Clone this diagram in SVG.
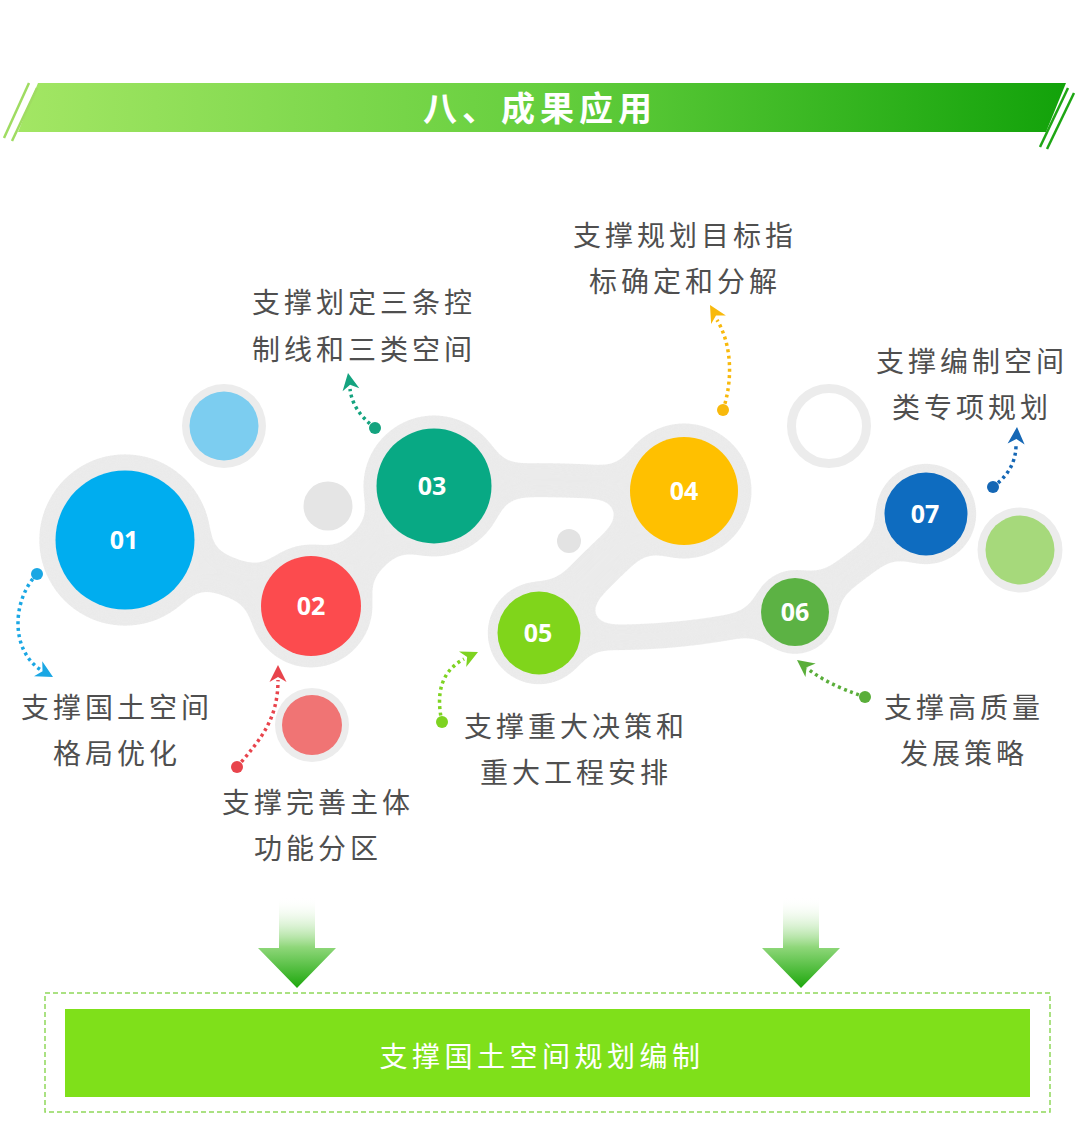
<svg xmlns="http://www.w3.org/2000/svg" width="1080" height="1126" viewBox="0 0 1080 1126">
<defs>
  <linearGradient id="band" x1="0" y1="0" x2="1" y2="0">
    <stop offset="0" stop-color="#a3e664"/>
    <stop offset="0.5" stop-color="#66cf3e"/>
    <stop offset="1" stop-color="#12a20a"/>
  </linearGradient>
  <linearGradient id="down" x1="0" y1="0" x2="0" y2="1">
    <stop offset="0" stop-color="#ffffff" stop-opacity="0"/>
    <stop offset="0.55" stop-color="#8fd77a"/>
    <stop offset="1" stop-color="#1da70c"/>
  </linearGradient>
  <filter id="goo" x="0" y="0" width="1080" height="1126" filterUnits="userSpaceOnUse" color-interpolation-filters="sRGB">
    <feGaussianBlur in="SourceGraphic" stdDeviation="12" result="b"/>
    <feColorMatrix in="b" type="matrix" values="1 0 0 0 0  0 1 0 0 0  0 0 1 0 0  0 0 0 30 -15"/>
  </filter>
  <path id="ah" d="M0,0 L-17,-8.5 L-12,0 L-17,8.5 Z"/>
</defs>
<style>
  .lbl{font-family:"Noto Sans CJK SC","Noto Sans",sans-serif;font-size:28px;fill:#4f4f4f;letter-spacing:4px;text-anchor:middle}
  .num{font-family:"Open Sans","Liberation Sans",sans-serif;font-weight:700;font-size:25px;fill:#ffffff;text-anchor:middle}
  .halo{fill:#ebebeb}
  .neck{fill:none;stroke:#ebebeb;stroke-linecap:round}
  .dot{fill:none;stroke-width:3.5;stroke-dasharray:3 3.5}
  .stripe{stroke-width:2.5}
</style>
<rect width="1080" height="1126" fill="#ffffff"/>

<g id="header">
  <polygon points="38,83 1066,83 1046,132 18,132" fill="url(#band)"/>
  <line class="stripe" x1="29" y1="83" x2="4" y2="138" stroke="#9fdc62"/>
  <line class="stripe" x1="37" y1="88" x2="12" y2="141" stroke="#9fdc62"/>
  <line class="stripe" x1="1068" y1="88" x2="1040" y2="147" stroke="#1ea614"/>
  <line class="stripe" x1="1074" y1="93" x2="1047" y2="149" stroke="#1ea614"/>
  <text x="540" y="121" font-family="'Noto Sans CJK SC','Noto Sans',sans-serif" font-size="34" font-weight="700" letter-spacing="5" fill="#ffffff" text-anchor="middle">八、成果应用</text>
</g>

<g id="links" filter="url(#goo)">
  <circle class="halo" cx="125" cy="540" r="87"/>
  <circle class="halo" cx="311" cy="606" r="63"/>
  <circle class="halo" cx="434" cy="486" r="72"/>
  <circle class="halo" cx="684" cy="491" r="69"/>
  <circle class="halo" cx="539" cy="633" r="53"/>
  <circle class="halo" cx="795" cy="612" r="44"/>
  <circle class="halo" cx="926" cy="514" r="52"/>
  <path class="neck" d="M125,540 L311,606" stroke-width="40"/>
  <path class="neck" d="M311,606 L434,486" stroke-width="46"/>
  <path class="neck" d="M434,486 Q560,472 684,491" stroke-width="35"/>
  <path class="neck" d="M684,491 Q595,565 539,633" stroke-width="44"/>
  <path class="neck" d="M539,633 Q670,648 795,612" stroke-width="27"/>
  <path class="neck" d="M795,612 L926,514" stroke-width="32"/>
</g>

<g id="decor">
  <circle cx="224" cy="426" r="42" fill="#ececec"/>
  <circle cx="224" cy="426" r="34.5" fill="#7ccdf0"/>
  <circle cx="328" cy="506" r="24.5" fill="#e5e5e5"/>
  <circle cx="569" cy="541" r="12" fill="#e3e3e3"/>
  <circle cx="829" cy="426" r="37.5" fill="none" stroke="#ececec" stroke-width="9"/>
  <circle cx="1020" cy="550" r="42.5" fill="#ececec"/>
  <circle cx="1020" cy="550" r="34.5" fill="#a6d97b"/>
  <circle cx="312" cy="725" r="37" fill="#ececec"/>
  <circle cx="312" cy="725" r="30" fill="#f07474"/>
</g>

<g id="node-01">
  <circle cx="125" cy="540" r="69.5" fill="#00adef"/>
  <text class="num" x="124" y="549">01</text>
</g>
<g id="node-02">
  <circle cx="311" cy="606" r="50" fill="#fc4b4e"/>
  <text class="num" x="311" y="615">02</text>
</g>
<g id="node-03">
  <circle cx="434" cy="486" r="57.5" fill="#08a984"/>
  <text class="num" x="432" y="495">03</text>
</g>
<g id="node-04">
  <circle cx="684" cy="491" r="54" fill="#ffc000"/>
  <text class="num" x="684" y="500">04</text>
</g>
<g id="node-05">
  <circle cx="539" cy="633" r="41.5" fill="#80d51b"/>
  <text class="num" x="538" y="642">05</text>
</g>
<g id="node-06">
  <circle cx="795" cy="612" r="34" fill="#5cb244"/>
  <text class="num" x="795" y="621">06</text>
</g>
<g id="node-07">
  <circle cx="926" cy="514" r="41.5" fill="#0e6cc0"/>
  <text class="num" x="925" y="523">07</text>
</g>

<g id="pointers">
  <path class="dot" stroke="#1aa7e4" d="M37,574 C12,600 10,650 41,670"/>
  <circle cx="37" cy="574" r="6" fill="#1aa7e4"/>
  <use href="#ah" transform="translate(53,677) rotate(29)" fill="#1aa7e4"/>

  <path class="dot" stroke="#e8444c" d="M237,767 C260,740 278,720 278,680"/>
  <circle cx="237" cy="767" r="6" fill="#e8444c"/>
  <use href="#ah" transform="translate(278,665) rotate(-90)" fill="#e8444c"/>

  <path class="dot" stroke="#14a37f" d="M375,428 C360,416 352,405 350,389"/>
  <circle cx="375" cy="428" r="6" fill="#14a37f"/>
  <use href="#ah" transform="translate(348,373) rotate(-100)" fill="#14a37f"/>

  <path class="dot" stroke="#f8b90c" d="M723,410 C733,380 732,345 717,320"/>
  <circle cx="723" cy="410" r="6" fill="#f8b90c"/>
  <use href="#ah" transform="translate(710,305) rotate(-120)" fill="#f8b90c"/>

  <path class="dot" stroke="#7ed321" d="M442,722 C436,695 440,672 464,659"/>
  <circle cx="442" cy="722" r="6" fill="#7ed321"/>
  <use href="#ah" transform="translate(478,652) rotate(-25)" fill="#7ed321"/>

  <path class="dot" stroke="#5aae3a" d="M865,697 C850,692 825,683 807,668"/>
  <circle cx="865" cy="697" r="6" fill="#5aae3a"/>
  <use href="#ah" transform="translate(797,660) rotate(-143)" fill="#5aae3a"/>

  <path class="dot" stroke="#1567b5" d="M993,487 C1005,478 1016,465 1016,445"/>
  <circle cx="993" cy="487" r="6" fill="#1567b5"/>
  <use href="#ah" transform="translate(1017,427) rotate(-87)" fill="#1567b5"/>
</g>

<g id="labels">
  <text class="lbl" x="117" y="718">支撑国土空间</text>
  <text class="lbl" x="117" y="764">格局优化</text>
  <text class="lbl" x="318" y="813">支撑完善主体</text>
  <text class="lbl" x="318" y="859">功能分区</text>
  <text class="lbl" x="364" y="313">支撑划定三条控</text>
  <text class="lbl" x="364" y="360">制线和三类空间</text>
  <text class="lbl" x="685" y="246">支撑规划目标指</text>
  <text class="lbl" x="685" y="292">标确定和分解</text>
  <text class="lbl" x="972" y="372">支撑编制空间</text>
  <text class="lbl" x="972" y="418">类专项规划</text>
  <text class="lbl" x="576" y="737">支撑重大决策和</text>
  <text class="lbl" x="576" y="783">重大工程安排</text>
  <text class="lbl" x="964" y="718">支撑高质量</text>
  <text class="lbl" x="964" y="764">发展策略</text>
</g>

<g id="flow-arrows">
  <polygon points="279,897 315,897 315,948 336,948 297,988 258,948 279,948" fill="url(#down)"/>
  <polygon points="783,897 819,897 819,948 840,948 801,988 762,948 783,948" fill="url(#down)"/>
</g>

<g id="result">
  <rect x="45" y="993" width="1005" height="119" fill="none" stroke="#8fd85a" stroke-width="1.5" stroke-dasharray="5 3"/>
  <rect x="65" y="1009" width="965" height="88" fill="#7fe01a"/>
  <text x="542" y="1067" font-family="'Noto Sans CJK SC','Noto Sans',sans-serif" font-size="28" letter-spacing="4.5" fill="#ffffff" text-anchor="middle">支撑国土空间规划编制</text>
</g>
</svg>
